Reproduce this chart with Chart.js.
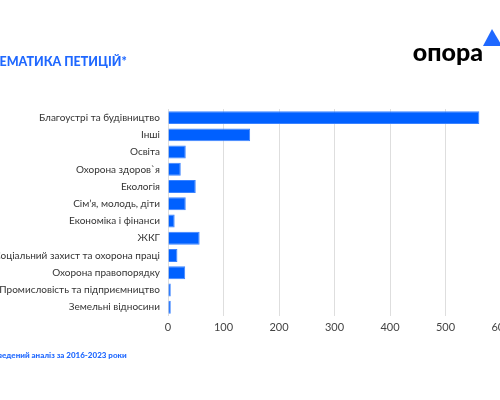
<!DOCTYPE html>
<html>
<head>
<meta charset="utf-8">
<script src="https://cdn.jsdelivr.net/npm/chart.js@4"></script>
<style>
  html, body { margin: 0; padding: 0; background: #fff; overflow: hidden; }
  #wrap { position: absolute; left: -20px; top: 0; width: 540px; height: 400px; }
</style>
</head>
<body>
<div id="wrap"><canvas id="chart" width="540" height="400"></canvas></div>
<script>
// petition topics, counts for 2016-2023
const categories = ['Благоустрі та будівництво', 'Інші', 'Освіта', 'Охорона здоров`я',
                    'Екологія', 'Сім’я, молодь, діти', 'Економіка і фінанси', 'ЖКГ',
                    'Соціальний захист та охорона праці', 'Охорона правопорядку',
                    'Промисловість та підприємництво', 'Земельні відносини']
const petitions = [561, 148, 32, 23, 50, 32, 12, 57, 17, 31, 5, 5]
const xTicks = [0, 100, 200, 300, 400, 500, 600]

const titleText = 'ТЕМАТИКА ПЕТИЦІЙ*'
const noteText = '*Зведений аналіз за 2016-2023 роки'
const logoText = 'опора'

// title, footnote and logo drawn straight onto the canvas
let decor = {
    id: 'decor',
    afterDraw(chart) {
        let ctx = chart.ctx
        ctx.save()
        ctx.fillStyle = '#1f68ff'
        ctx.textBaseline = 'middle'
        ctx.textAlign = 'left'
        ctx.font = '900 12.5px Lato'
        ctx.fillText(titleText, 12, 62)
        ctx.font = '900 8px Lato'
        ctx.fillText(noteText, 10, 355)

        ctx.fillStyle = '#000'
        ctx.font = '900 25px Lato'
        ctx.textAlign = 'right'
        ctx.fillText(logoText, 503, 53)
        ctx.fillStyle = '#1f68ff'
        ctx.beginPath()
        ctx.moveTo(503, 46)
        ctx.lineTo(512, 29)
        ctx.lineTo(522, 46)
        ctx.closePath()
        ctx.fill()
        ctx.restore()
    }
}

let ctx = document.getElementById('chart').getContext('2d')
let chart = new Chart(ctx, {
    type: 'bar',
    data: {
        labels: categories,
        datasets: [{
            data: petitions,
            backgroundColor: '#0060ff',
            borderColor: '#3b83ff',
            borderWidth: 1,
            categoryPercentage: 1,
            barPercentage: 0.75
        }]
    },
    options: {
        indexAxis: 'y',
        responsive: false,
        animation: false,
        layout: { padding: { top: 109, bottom: 61, left: 0, right: 19 } },
        plugins: { legend: { display: false }, tooltip: { enabled: false } },
        scales: {
            x: {
                min: 0,
                max: 600,
                afterBuildTicks(scale) { scale.ticks = xTicks.map(v => ({value: v})) },
                grid: { color: '#dedede', drawTicks: false },
                border: { display: false },
                ticks: { color: '#444', font: { family: 'Lato', size: 11 }, padding: 5 }
            },
            y: {
                afterFit(scale) { scale.width = 188 },
                grid: { display: false, drawTicks: false },
                border: { color: '#dedede' },
                ticks: { color: '#333', font: { family: 'Lato', size: 10 }, padding: 8 }
            }
        }
    },
    plugins: [decor]
})
</script>
</body>
</html>
